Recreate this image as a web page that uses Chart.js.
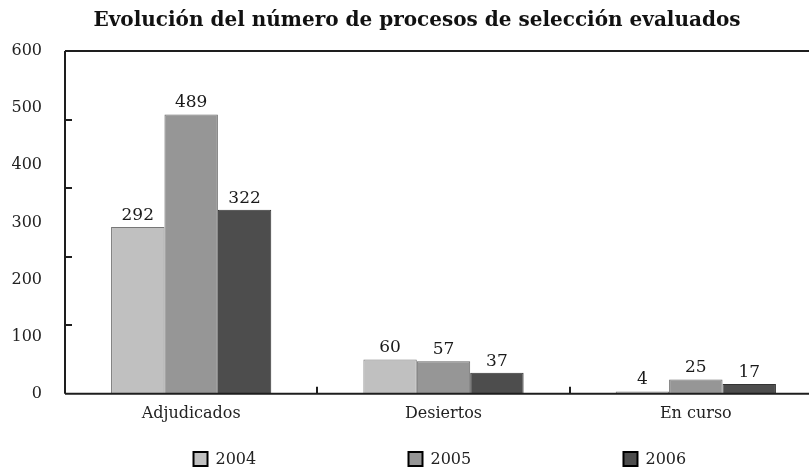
<!DOCTYPE html>
<html>
<head>
<meta charset="utf-8">
<script src="https://cdn.jsdelivr.net/npm/chart.js@4.4.0/dist/chart.umd.min.js"></script>
<style>
  html, body { margin: 0; padding: 0; background: #fff; overflow: hidden; }
  #wrap { width: 826px; height: 472px; }
</style>
</head>
<body>
<div id="wrap"><canvas id="chart" width="826" height="472"></canvas></div>
<script>
// data
const categories = ['Adjudicados', 'Desiertos', 'En curso'];
const years = ['2004', '2005', '2006'];
const values2004 = [292, 60, 4];
const values2005 = [489, 57, 25];
const values2006 = [322, 37, 17];
const yTicks = [0, 100, 200, 300, 400, 500, 600];
const yMarkStep = 120; // the axis tick marks in the original sit every 120

const fills = ['#c0c0c0', '#969696', '#4d4d4d'];
const edges = ['#777777', '#666666', '#333333'];
const serif = "'DejaVu Serif', 'Liberation Serif', serif";

// frame lines, tick marks, value labels and the legend row
const decor = {
    id: 'decor',
    afterDatasetsDraw(chart) {
        const ctx = chart.ctx;
        const a = chart.chartArea;
        const xs = chart.scales.x, ys = chart.scales.y;
        ctx.save();
        ctx.strokeStyle = '#1e1e1e';
        ctx.lineWidth = 2;
        ctx.beginPath();
        ctx.moveTo(a.left, a.top); ctx.lineTo(a.right, a.top);
        ctx.moveTo(a.left, a.top); ctx.lineTo(a.left, a.bottom);
        ctx.moveTo(a.left, a.bottom); ctx.lineTo(a.right, a.bottom);
        for (let v = yMarkStep; v < ys.max; v += yMarkStep) {
            const py = Math.round(ys.getPixelForValue(v));
            ctx.moveTo(a.left, py); ctx.lineTo(a.left + 7, py);
        }
        for (let i = 0; i < categories.length - 1; i++) {
            const px = Math.round((xs.getPixelForValue(i) + xs.getPixelForValue(i + 1)) / 2);
            ctx.moveTo(px, a.bottom); ctx.lineTo(px, a.bottom - 7);
        }
        ctx.stroke();

        ctx.fillStyle = '#1a1a1a';
        ctx.font = '17px ' + serif;
        ctx.textAlign = 'center';
        ctx.textBaseline = 'bottom';
        chart.data.datasets.forEach((ds, di) => {
            chart.getDatasetMeta(di).data.forEach((bar, i) => {
                ctx.fillText(ds.data[i], bar.x, bar.y - 3);
            });
        });

        // legend: evenly spread under the plot
        const step = a.width * 0.284;
        const ly = chart.height - 13;
        const startX = (a.left + a.right) / 2 - step - 35;
        ctx.font = '16px ' + serif;
        ctx.textAlign = 'left';
        ctx.textBaseline = 'middle';
        chart.data.datasets.forEach((ds, i) => {
            const bx = startX + i * step;
            ctx.fillStyle = ds.backgroundColor;
            ctx.fillRect(bx, ly - 7, 14, 14);
            ctx.strokeStyle = '#000';
            ctx.lineWidth = 2;
            ctx.strokeRect(bx, ly - 7, 14, 14);
            ctx.fillStyle = '#222';
            ctx.fillText(ds.label, bx + 22, ly + 1);
        });
        ctx.restore();
    }
};

const series = [values2004, values2005, values2006];

new Chart(document.getElementById('chart'), {
    type: 'bar',
    data: {
        labels: categories,
        datasets: series.map((vals, i) => ({
            label: years[i],
            data: vals,
            backgroundColor: fills[i],
            borderColor: edges[i],
            borderWidth: 1,
            barPercentage: 1,
            categoryPercentage: 0.635
        }))
    },
    options: {
        responsive: false,
        animation: false,
        layout: { padding: { left: 12, right: 4, top: 0, bottom: 47 } },
        plugins: {
            title: {
                display: true,
                text: 'Evolución del número de procesos de selección evaluados',
                color: '#111',
                font: { family: serif, size: 20, weight: 'bold' },
                padding: { top: 9, bottom: 18 }
            },
            legend: { display: false },
            tooltip: { enabled: false }
        },
        scales: {
            x: {
                grid: { display: false },
                border: { display: false },
                ticks: { color: '#222', font: { family: serif, size: 16 }, padding: 2 }
            },
            y: {
                min: 0,
                max: 600,
                afterBuildTicks(axis) {
                    axis.ticks = yTicks.map(v => ({ value: v }));
                },
                afterFit(axis) { axis.width = 53; },
                grid: { display: false },
                border: { display: false },
                ticks: { color: '#222', font: { family: serif, size: 16 }, padding: 15 }
            }
        }
    },
    plugins: [decor]
});
</script>
</body>
</html>
